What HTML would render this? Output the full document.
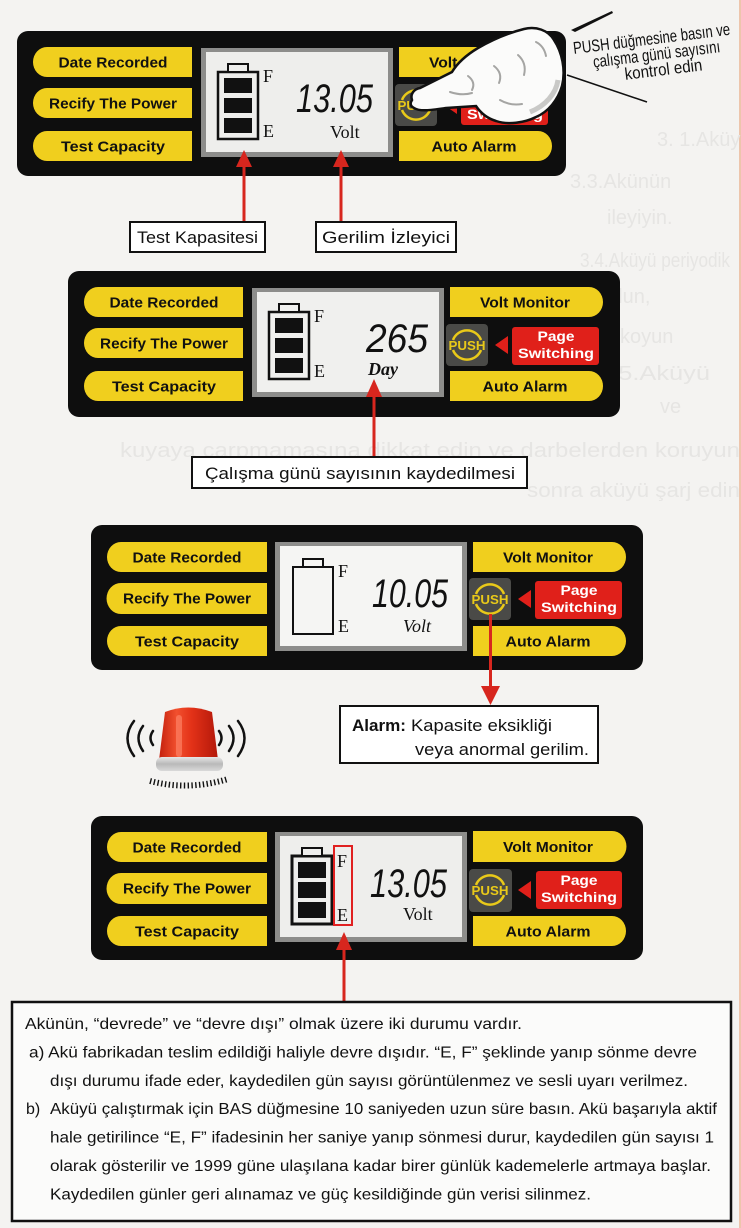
<!DOCTYPE html>
<html><head><meta charset="utf-8"><style>
html,body{margin:0;padding:0;background:#f4f3f1;}
svg{display:block}
.bt{font-family:"Liberation Sans",Arial,sans-serif;font-weight:bold;font-size:15px;fill:#111;}
.ps{font-family:"Liberation Sans",Arial,sans-serif;font-weight:bold;font-size:14px;fill:#fff;}
.pu{font-family:"Liberation Sans",Arial,sans-serif;font-weight:bold;font-size:13px;fill:#e9c919;}
.num{font-family:"Liberation Sans",Arial,sans-serif;font-style:italic;font-size:40px;fill:#111;}
.ser{font-family:"Liberation Serif","Times New Roman",serif;font-size:18px;fill:#111;}
.lbl{font-family:"Liberation Sans",Arial,sans-serif;font-size:17px;fill:#111;}
.tx{font-family:"Liberation Sans","Noto Sans CJK JP",sans-serif;font-size:16px;fill:#111;}
.gh{font-family:"Liberation Sans",Arial,sans-serif;font-size:20px;fill:#e6e5e3;}
</style></head><body>
<svg width="741" height="1228" viewBox="0 0 741 1228" xmlns="http://www.w3.org/2000/svg">
<rect width="741" height="1228" fill="#f4f3f1"/>
<rect x="739" y="0" width="2" height="1228" fill="#eab08e" opacity="0.7"/>

<!-- faint ghost text from scan -->
<text class="gh" x="657" y="146">3. 1.Aküyü</text>
<text class="gh" x="570" y="188">3.3.Akünün</text>
<text class="gh" x="607" y="224">ileyiyin.</text>
<text class="gh" x="580" y="267" textLength="150" lengthAdjust="spacingAndGlyphs">3.4.Aküyü periyodik</text>
<text class="gh" x="607" y="303">olun,</text>
<text class="gh" x="620" y="343">koyun</text>
<text class="gh" x="597" y="380" textLength="113" lengthAdjust="spacingAndGlyphs">3.5.Aküyü</text>
<text class="gh" x="660" y="413">ve</text>
<text class="gh" x="120" y="457" textLength="620" lengthAdjust="spacingAndGlyphs">kuyaya çarpmamasına dikkat edin ve darbelerden koruyun</text>
<text class="gh" x="527" y="497" textLength="213" lengthAdjust="spacingAndGlyphs">sonra aküyü şarj edin</text>

<!-- ================= PANEL 1 ================= -->
<g transform="translate(17,31)">
<rect x="0" y="0" width="549" height="145" rx="11" fill="#0e0e0e"/>
<g fill="#f0cf1e">
<path d="M30,16H175V46H30A14,15 0 0 1 30,16Z"/>
<path d="M30,57H175V87H30A14,15 0 0 1 30,57Z"/>
<path d="M30,100H175V130H30A14,15 0 0 1 30,100Z"/>
<path d="M382,16H521A14,15 0 0 1 521,46H382Z"/>
<path d="M382,100H521A14,15 0 0 1 521,130H382Z"/>
</g>
<text class="bt" x="96" y="36.5" text-anchor="middle" textLength="109" lengthAdjust="spacingAndGlyphs">Date Recorded</text>
<text class="bt" x="96" y="77.5" text-anchor="middle" textLength="128" lengthAdjust="spacingAndGlyphs">Recify The Power</text>
<text class="bt" x="96" y="120.5" text-anchor="middle" textLength="104" lengthAdjust="spacingAndGlyphs">Test Capacity</text>
<text class="bt" x="457" y="36.5" text-anchor="middle" textLength="90" lengthAdjust="spacingAndGlyphs">Volt Monitor</text>
<text class="bt" x="457" y="120.5" text-anchor="middle" textLength="85" lengthAdjust="spacingAndGlyphs">Auto Alarm</text>
<rect x="184" y="17" width="192" height="109" fill="#8d8d8b"/>
<rect x="189" y="21" width="182" height="100" fill="#eeeeec"/>
<rect x="201" y="41" width="40" height="67" fill="none" stroke="#111" stroke-width="2.5"/>
<rect x="211" y="33" width="20" height="8" fill="#eeeeec" stroke="#111" stroke-width="2"/>
<rect x="207" y="47" width="28" height="15" fill="#111"/>
<rect x="207" y="67" width="28" height="15" fill="#111"/>
<rect x="207" y="87" width="28" height="15" fill="#111"/>
<text class="ser" x="246" y="51">F</text>
<text class="ser" x="246" y="106">E</text>
<text class="num" x="279" y="81" textLength="77" lengthAdjust="spacingAndGlyphs">13.05</text>
<text class="ser" x="313" y="107" font-size="19">Volt</text>
<rect x="378" y="53" width="42" height="42" rx="4" fill="#4a4a47"/>
<path d="M385,69A15,15 0 0 1 413,69M385,79A15,15 0 0 0 413,79" fill="none" stroke="#e9c919" stroke-width="2.5"/>
<text class="pu" x="399" y="79" text-anchor="middle" textLength="37" lengthAdjust="spacingAndGlyphs">PUSH</text>
<polygon points="427,74 440,65 440,83" fill="#e0201a"/>
<rect x="444" y="58" width="87" height="36" rx="3" fill="#e0201a"/>
<text class="ps" x="488" y="71" text-anchor="middle" textLength="37" lengthAdjust="spacingAndGlyphs">Page</text>
<text class="ps" x="488" y="88" text-anchor="middle" textLength="76" lengthAdjust="spacingAndGlyphs">Switching</text>
</g>

<!-- hand -->
<path d="M412,100C410,94 414,89 420,88L452,72C458,62 468,54 478,48C492,40 508,33 524,29C536,26 548,30 554,40C562,52 566,70 562,86C558,100 548,112 536,117C524,123 508,125 496,121C486,118 480,112 476,106L446,108C432,110 420,112 414,108C410,106 410,103 412,100Z" fill="#fbfbfa" stroke="#111" stroke-width="2.5"/>
<path d="M530,112C545,106 556,94 558,80" fill="none" stroke="#c9c9c7" stroke-width="5"/>
<g fill="none" stroke="#a5a5a3" stroke-width="2" stroke-linecap="round">
<path d="M468,76q8,6 4,14"/>
<path d="M494,66q9,7 5,17"/>
<path d="M518,55q9,8 6,20"/>
<path d="M450,92q12,4 22,1"/>
<path d="M500,100q10,6 22,4"/>
<path d="M536,42q8,4 10,14"/>
</g>

<!-- annotation lines + text -->
<polygon points="571,30 612,11 613,13 575,32" fill="#111"/>
<line x1="567" y1="75" x2="647" y2="102" stroke="#111" stroke-width="1.5"/>
<g transform="rotate(-7 655 50)">
<text class="lbl" x="653" y="44" font-size="13" text-anchor="middle" textLength="158" lengthAdjust="spacingAndGlyphs">PUSH düğmesine basın ve</text>
<text class="lbl" x="656" y="60" font-size="13" text-anchor="middle" textLength="128" lengthAdjust="spacingAndGlyphs">çalışma günü sayısını</text>
<text class="lbl" x="661" y="76" font-size="13" text-anchor="middle" textLength="78" lengthAdjust="spacingAndGlyphs">kontrol edin</text>
</g>

<!-- arrows panel 1 -->
<g fill="#d7261e">
<rect x="242.5" y="164" width="3" height="58"/>
<polygon points="244,150 236,167 252,167"/>
<rect x="339.5" y="164" width="3" height="58"/>
<polygon points="341,150 333,167 349,167"/>
</g>
<rect x="130" y="222" width="135" height="30" fill="#fff" stroke="#111" stroke-width="2"/>
<text class="lbl" x="137" y="243" textLength="121" lengthAdjust="spacingAndGlyphs">Test Kapasitesi</text>
<rect x="316" y="222" width="140" height="30" fill="#fff" stroke="#111" stroke-width="2"/>
<text class="lbl" x="322" y="243" textLength="128" lengthAdjust="spacingAndGlyphs">Gerilim İzleyici</text>

<!-- ================= PANEL 2 ================= -->
<g transform="translate(68,271)">
<rect x="0" y="0" width="552" height="146" rx="11" fill="#0e0e0e"/>
<g fill="#f0cf1e">
<path d="M30,16H175V46H30A14,15 0 0 1 30,16Z"/>
<path d="M30,57H175V87H30A14,15 0 0 1 30,57Z"/>
<path d="M30,100H175V130H30A14,15 0 0 1 30,100Z"/>
<path d="M382,16H521A14,15 0 0 1 521,46H382Z"/>
<path d="M382,100H521A14,15 0 0 1 521,130H382Z"/>
</g>
<text class="bt" x="96" y="36.5" text-anchor="middle" textLength="109" lengthAdjust="spacingAndGlyphs">Date Recorded</text>
<text class="bt" x="96" y="77.5" text-anchor="middle" textLength="128" lengthAdjust="spacingAndGlyphs">Recify The Power</text>
<text class="bt" x="96" y="120.5" text-anchor="middle" textLength="104" lengthAdjust="spacingAndGlyphs">Test Capacity</text>
<text class="bt" x="457" y="36.5" text-anchor="middle" textLength="90" lengthAdjust="spacingAndGlyphs">Volt Monitor</text>
<text class="bt" x="457" y="120.5" text-anchor="middle" textLength="85" lengthAdjust="spacingAndGlyphs">Auto Alarm</text>
<rect x="184" y="17" width="192" height="109" fill="#8d8d8b"/>
<rect x="189" y="21" width="182" height="100" fill="#f0f0ee"/>
<rect x="201" y="41" width="40" height="67" fill="none" stroke="#111" stroke-width="2.5"/>
<rect x="211" y="33" width="20" height="8" fill="#f0f0ee" stroke="#111" stroke-width="2"/>
<rect x="207" y="47" width="28" height="15" fill="#111"/>
<rect x="207" y="67" width="28" height="15" fill="#111"/>
<rect x="207" y="87" width="28" height="15" fill="#111"/>
<text class="ser" x="246" y="51">F</text>
<text class="ser" x="246" y="106">E</text>
<text class="num" x="298" y="81" textLength="62" lengthAdjust="spacingAndGlyphs">265</text>
<text class="ser" x="300" y="104" font-size="17" font-weight="bold" font-style="italic">Day</text>
<rect x="378" y="53" width="42" height="42" rx="4" fill="#4a4a47"/>
<path d="M385,69A15,15 0 0 1 413,69M385,79A15,15 0 0 0 413,79" fill="none" stroke="#e9c919" stroke-width="2.5"/>
<text class="pu" x="399" y="79" text-anchor="middle" textLength="37" lengthAdjust="spacingAndGlyphs">PUSH</text>
<polygon points="427,74 440,65 440,83" fill="#e0201a"/>
<rect x="444" y="56" width="87" height="38" rx="3" fill="#e0201a"/>
<text class="ps" x="488" y="70" text-anchor="middle" textLength="37" lengthAdjust="spacingAndGlyphs">Page</text>
<text class="ps" x="488" y="87" text-anchor="middle" textLength="76" lengthAdjust="spacingAndGlyphs">Switching</text>
</g>
<g fill="#d7261e">
<rect x="372.5" y="394" width="3" height="64"/>
<polygon points="374,379 366,397 382,397"/>
</g>
<rect x="192" y="457" width="335" height="31" fill="#fff" stroke="#111" stroke-width="2"/>
<text class="lbl" x="205" y="479" textLength="310" lengthAdjust="spacingAndGlyphs">Çalışma günü sayısının kaydedilmesi</text>

<!-- ================= PANEL 3 ================= -->
<g transform="translate(91,525)">
<rect x="0" y="0" width="552" height="145" rx="11" fill="#0e0e0e"/>
<g fill="#f0cf1e">
<path d="M30,17H176V47H30A14,15 0 0 1 30,17Z"/>
<path d="M30,58H176V89H30A14,15 0 0 1 30,58Z"/>
<path d="M30,101H176V131H30A14,15 0 0 1 30,101Z"/>
<path d="M382,17H521A14,15 0 0 1 521,47H382Z"/>
<path d="M382,101H521A14,15 0 0 1 521,131H382Z"/>
</g>
<text class="bt" x="96" y="37.5" text-anchor="middle" textLength="109" lengthAdjust="spacingAndGlyphs">Date Recorded</text>
<text class="bt" x="96" y="78.5" text-anchor="middle" textLength="128" lengthAdjust="spacingAndGlyphs">Recify The Power</text>
<text class="bt" x="96" y="121.5" text-anchor="middle" textLength="104" lengthAdjust="spacingAndGlyphs">Test Capacity</text>
<text class="bt" x="457" y="37.5" text-anchor="middle" textLength="90" lengthAdjust="spacingAndGlyphs">Volt Monitor</text>
<text class="bt" x="457" y="121.5" text-anchor="middle" textLength="85" lengthAdjust="spacingAndGlyphs">Auto Alarm</text>
<rect x="184" y="17" width="192" height="109" fill="#8d8d8b"/>
<rect x="189" y="21" width="182" height="100" fill="#f5f5f3"/>
<rect x="202" y="42" width="40" height="67" fill="none" stroke="#111" stroke-width="2"/>
<rect x="212" y="34" width="20" height="8" fill="#f5f5f3" stroke="#111" stroke-width="2"/>
<text class="ser" x="247" y="52">F</text>
<text class="ser" x="247" y="107">E</text>
<text class="num" x="281" y="82" textLength="76" lengthAdjust="spacingAndGlyphs">10.05</text>
<text class="ser" x="312" y="107" font-size="19" font-style="italic">Volt</text>
<rect x="378" y="53" width="42" height="42" rx="4" fill="#4a4a47"/>
<path d="M385,69A15,15 0 0 1 413,69M385,79A15,15 0 0 0 413,79" fill="none" stroke="#e9c919" stroke-width="2.5"/>
<text class="pu" x="399" y="79" text-anchor="middle" textLength="37" lengthAdjust="spacingAndGlyphs">PUSH</text>
<polygon points="427,74 440,65 440,83" fill="#e0201a"/>
<rect x="444" y="56" width="87" height="38" rx="3" fill="#e0201a"/>
<text class="ps" x="488" y="70" text-anchor="middle" textLength="37" lengthAdjust="spacingAndGlyphs">Page</text>
<text class="ps" x="488" y="87" text-anchor="middle" textLength="76" lengthAdjust="spacingAndGlyphs">Switching</text>
</g>
<g fill="#d7261e">
<rect x="489" y="614" width="3" height="76"/>
<polygon points="490.5,705 481,686 500,686"/>
</g>
<rect x="340" y="706" width="258" height="57" fill="#fff" stroke="#111" stroke-width="2"/>
<text class="lbl" x="352" y="731"><tspan font-weight="bold" textLength="54" lengthAdjust="spacingAndGlyphs">Alarm:</tspan></text>
<text class="lbl" x="411" y="731" textLength="141" lengthAdjust="spacingAndGlyphs">Kapasite eksikliği</text>
<text class="lbl" x="415" y="755" textLength="174" lengthAdjust="spacingAndGlyphs">veya anormal gerilim.</text>

<!-- siren -->
<defs>
<linearGradient id="dome" x1="0" x2="1" y1="0" y2="0">
<stop offset="0" stop-color="#c4200d"/><stop offset="0.3" stop-color="#f2502e"/><stop offset="0.55" stop-color="#e33218"/><stop offset="1" stop-color="#b3180a"/>
</linearGradient>
<linearGradient id="base" x1="0" x2="0" y1="0" y2="1">
<stop offset="0" stop-color="#e6e6e6"/><stop offset="0.5" stop-color="#b9b9b9"/><stop offset="1" stop-color="#d9d9d9"/>
</linearGradient>
</defs>
<path d="M165,712Q188,703 212,712L218,760Q188,768 159,760Z" fill="url(#dome)"/>
<rect x="176" y="715" width="6" height="42" rx="3" fill="#ff8a6e" opacity="0.6"/>
<rect x="156" y="757" width="67" height="14" rx="6" fill="url(#base)"/>
<g fill="none" stroke="#111" stroke-width="2.5" stroke-linecap="round">
<path d="M153,731Q148,738 153,745"/>
<path d="M143,726Q134,738 143,751"/>
<path d="M134,721Q121,738 134,756"/>
<path d="M219,731Q224,738 219,745"/>
<path d="M229,726Q238,738 229,751"/>
<path d="M238,721Q251,738 238,756"/>
</g>
<path d="M150,781Q188,791 228,779" fill="none" stroke="#111" stroke-width="6" stroke-dasharray="1.4,2.4"/>

<!-- ================= PANEL 4 ================= -->
<g transform="translate(91,816)">
<rect x="0" y="0" width="552" height="144" rx="11" fill="#0e0e0e"/>
<g fill="#f0cf1e">
<path d="M30,16H176V46H30A14,15 0 0 1 30,16Z"/>
<path d="M30,57H176V88H30A14,15 0 0 1 30,57Z"/>
<path d="M30,100H176V130H30A14,15 0 0 1 30,100Z"/>
<path d="M382,15H521A14,15 0 0 1 521,46H382Z"/>
<path d="M382,100H521A14,15 0 0 1 521,130H382Z"/>
</g>
<text class="bt" x="96" y="36.5" text-anchor="middle" textLength="109" lengthAdjust="spacingAndGlyphs">Date Recorded</text>
<text class="bt" x="96" y="77.5" text-anchor="middle" textLength="128" lengthAdjust="spacingAndGlyphs">Recify The Power</text>
<text class="bt" x="96" y="120.5" text-anchor="middle" textLength="104" lengthAdjust="spacingAndGlyphs">Test Capacity</text>
<text class="bt" x="457" y="36" text-anchor="middle" textLength="90" lengthAdjust="spacingAndGlyphs">Volt Monitor</text>
<text class="bt" x="457" y="120.5" text-anchor="middle" textLength="85" lengthAdjust="spacingAndGlyphs">Auto Alarm</text>
<rect x="184" y="16" width="192" height="110" fill="#8d8d8b"/>
<rect x="189" y="20" width="182" height="101" fill="#eeeeec"/>
<rect x="201" y="40" width="40" height="68" fill="none" stroke="#111" stroke-width="3"/>
<rect x="211" y="32" width="20" height="8" fill="#eeeeec" stroke="#111" stroke-width="2"/>
<rect x="207" y="46" width="28" height="16" fill="#111"/>
<rect x="207" y="66" width="28" height="16" fill="#111"/>
<rect x="207" y="86" width="28" height="16" fill="#111"/>
<text class="ser" x="246" y="51" font-size="17">F</text>
<text class="ser" x="246" y="105" font-size="17">E</text>
<rect x="243" y="30" width="18" height="79" fill="none" stroke="#e02020" stroke-width="2"/>
<text class="num" x="279" y="81" textLength="77" lengthAdjust="spacingAndGlyphs">13.05</text>
<text class="ser" x="312" y="104" font-size="19">Volt</text>
<rect x="378" y="53" width="43" height="43" rx="4" fill="#4a4a47"/>
<path d="M385,69A15,15 0 0 1 413,69M385,79A15,15 0 0 0 413,79" fill="none" stroke="#e9c919" stroke-width="2.5"/>
<text class="pu" x="399" y="79" text-anchor="middle" textLength="37" lengthAdjust="spacingAndGlyphs">PUSH</text>
<polygon points="427,74 440,65 440,83" fill="#e0201a"/>
<rect x="445" y="55" width="86" height="38" rx="3" fill="#e0201a"/>
<text class="ps" x="488" y="69" text-anchor="middle" textLength="37" lengthAdjust="spacingAndGlyphs">Page</text>
<text class="ps" x="488" y="86" text-anchor="middle" textLength="76" lengthAdjust="spacingAndGlyphs">Switching</text>
</g>
<g fill="#d7261e">
<rect x="342.5" y="947" width="3" height="56"/>
<polygon points="344,932 336,950 352,950"/>
</g>

<!-- ================= TEXT BOX ================= -->
<rect x="12" y="1002" width="719" height="219" fill="#fbfbfa" stroke="#111" stroke-width="2.5"/>
<text class="tx" x="25" y="1029" textLength="497" lengthAdjust="spacingAndGlyphs">Akünün, “devrede” ve “devre dışı” olmak üzere iki durumu vardır.</text>
<text class="tx" x="29" y="1057.5" textLength="668" lengthAdjust="spacingAndGlyphs">a) Akü fabrikadan teslim edildiği haliyle devre dışıdır. “E, F” şeklinde yanıp sönme devre</text>
<text class="tx" x="50" y="1086" textLength="638" lengthAdjust="spacingAndGlyphs">dışı durumu ifade eder, kaydedilen gün sayısı görüntülenmez ve sesli uyarı verilmez.</text>
<text class="tx" x="26" y="1114">b)</text>
<text class="tx" x="50" y="1114" textLength="667" lengthAdjust="spacingAndGlyphs">Aküyü çalıştırmak için BAS düğmesine 10 saniyeden uzun süre basın. Akü başarıyla aktif</text>
<text class="tx" x="50" y="1142.5" textLength="664" lengthAdjust="spacingAndGlyphs">hale getirilince “E, F” ifadesinin her saniye yanıp sönmesi durur, kaydedilen gün sayısı 1</text>
<text class="tx" x="50" y="1171" textLength="661" lengthAdjust="spacingAndGlyphs">olarak gösterilir ve 1999 güne ulaşılana kadar birer günlük kademelerle artmaya başlar.</text>
<text class="tx" x="50" y="1199.5" textLength="541" lengthAdjust="spacingAndGlyphs">Kaydedilen günler geri alınamaz ve güç kesildiğinde gün verisi silinmez.</text>
</svg>
</body></html>
